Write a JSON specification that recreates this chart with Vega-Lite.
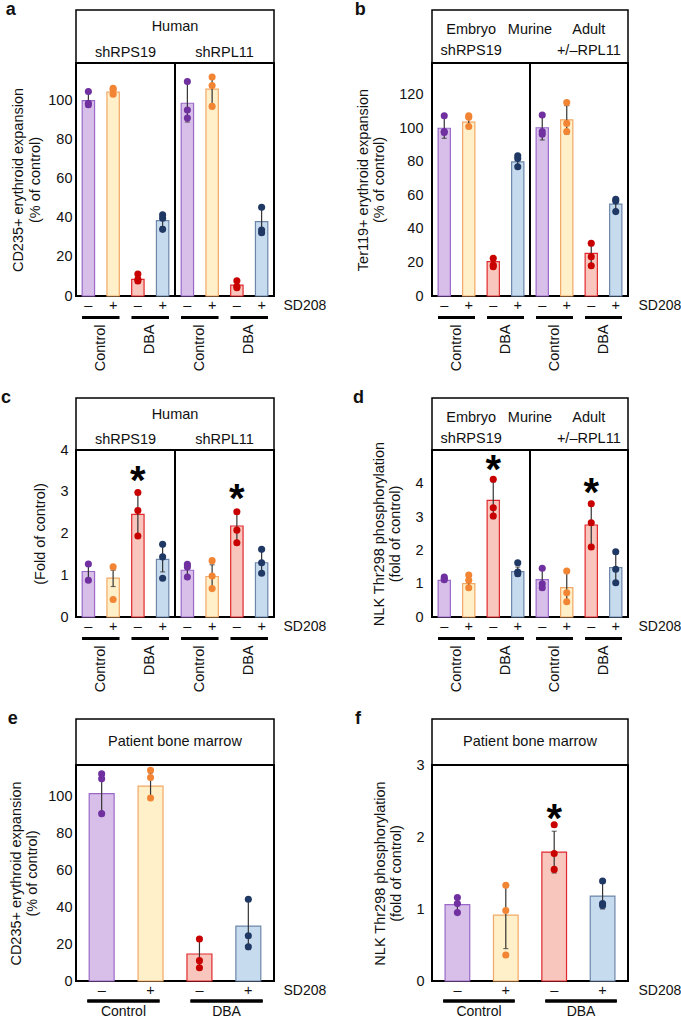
{
"$schema": "https://vega.github.io/schema/vega-lite/v6.json",
"background": "white",
"padding": {"left": 0, "top": 1, "right": 0, "bottom": 0},
"config": {
 "font": "Liberation Sans",
 "view": {"stroke": null},
 "axis": {"grid": false, "domain": false, "ticks": false, "labelOverlap": false, "labelFontSize": 14.5, "titleFontSize": 14.5, "labelColor": "#111", "titleColor": "#111", "titleFontWeight": "normal"},
 "title": {"fontSize": 18, "fontWeight": "bold", "anchor": "start", "frame": "bounds", "color": "#111", "baseline": "alphabetic", "offset": -10},
 "text": {"color": "#111"}
},
"datasets": {
 "hdr": [
  {"p":"a","col":"C","line":"1","t":"Human"},{"p":"a","col":"L","line":"2","t":"shRPS19"},{"p":"a","col":"R","line":"2","t":"shRPL11"},
  {"p":"c","col":"C","line":"1","t":"Human"},{"p":"c","col":"L","line":"2","t":"shRPS19"},{"p":"c","col":"R","line":"2","t":"shRPL11"},
  {"p":"b","col":"L","line":"1","t":"Embryo"},{"p":"b","col":"C","line":"1","t":"Murine","up":true},{"p":"b","col":"R","line":"1","t":"Adult"},{"p":"b","col":"L","line":"2","t":"shRPS19"},{"p":"b","col":"R","line":"2","t":"+/–RPL11"},
  {"p":"d","col":"L","line":"1","t":"Embryo"},{"p":"d","col":"C","line":"1","t":"Murine","up":true},{"p":"d","col":"R","line":"1","t":"Adult"},{"p":"d","col":"L","line":"2","t":"shRPS19"},{"p":"d","col":"R","line":"2","t":"+/–RPL11"},
  {"p":"e","t":"Patient bone marrow"},{"p":"f","t":"Patient bone marrow"}
 ],
 "bars": [
  {"p":"a","cat":"shRPS19 Control –","grp":"shRPS19 Control","cond":"Control –","m":100,"lo":96.5,"hi":104},
  {"p":"a","cat":"shRPS19 Control +","grp":"shRPS19 Control","cond":"Control +","m":104.3,"lo":102.8,"hi":106},
  {"p":"a","cat":"shRPS19 DBA –","grp":"shRPS19 DBA","cond":"DBA –","m":8.5,"lo":6.5,"hi":11},
  {"p":"a","cat":"shRPS19 DBA +","grp":"shRPS19 DBA","cond":"DBA +","m":38.6,"lo":35.5,"hi":41.7},
  {"p":"a","cat":"shRPL11 Control –","grp":"shRPL11 Control","cond":"Control –","m":98.6,"lo":89,"hi":109.7},
  {"p":"a","cat":"shRPL11 Control +","grp":"shRPL11 Control","cond":"Control +","m":105.8,"lo":98,"hi":112.5},
  {"p":"a","cat":"shRPL11 DBA –","grp":"shRPL11 DBA","cond":"DBA –","m":5.6,"lo":3.5,"hi":7.8},
  {"p":"a","cat":"shRPL11 DBA +","grp":"shRPL11 DBA","cond":"DBA +","m":38,"lo":31.5,"hi":45},
  {"p":"b","cat":"Embryo Control –","grp":"Embryo Control","cond":"Control –","m":100,"lo":94,"hi":107},
  {"p":"b","cat":"Embryo Control +","grp":"Embryo Control","cond":"Control +","m":103.7,"lo":100,"hi":107.5},
  {"p":"b","cat":"Embryo DBA –","grp":"Embryo DBA","cond":"DBA –","m":20.5,"lo":17.5,"hi":22.5},
  {"p":"b","cat":"Embryo DBA +","grp":"Embryo DBA","cond":"DBA +","m":80,"lo":76.5,"hi":83.5},
  {"p":"b","cat":"Adult Control –","grp":"Adult Control","cond":"Control –","m":100.3,"lo":93,"hi":107.9},
  {"p":"b","cat":"Adult Control +","grp":"Adult Control","cond":"Control +","m":105,"lo":96.5,"hi":113.5},
  {"p":"b","cat":"Adult DBA –","grp":"Adult DBA","cond":"DBA –","m":25.4,"lo":19,"hi":30},
  {"p":"b","cat":"Adult DBA +","grp":"Adult DBA","cond":"DBA +","m":54.8,"lo":51,"hi":58},
  {"p":"c","cat":"shRPS19 Control –","grp":"shRPS19 Control","cond":"Control –","m":1.09,"lo":0.93,"hi":1.25},
  {"p":"c","cat":"shRPS19 Control +","grp":"shRPS19 Control","cond":"Control +","m":0.93,"lo":0.73,"hi":1.12},
  {"p":"c","cat":"shRPS19 DBA –","grp":"shRPS19 DBA","cond":"DBA –","m":2.46,"lo":1.95,"hi":2.98,"star":"*"},
  {"p":"c","cat":"shRPS19 DBA +","grp":"shRPS19 DBA","cond":"DBA +","m":1.38,"lo":1.08,"hi":1.7},
  {"p":"c","cat":"shRPL11 Control –","grp":"shRPL11 Control","cond":"Control –","m":1.12,"lo":1.0,"hi":1.24},
  {"p":"c","cat":"shRPL11 Control +","grp":"shRPL11 Control","cond":"Control +","m":0.97,"lo":0.7,"hi":1.25},
  {"p":"c","cat":"shRPL11 DBA –","grp":"shRPL11 DBA","cond":"DBA –","m":2.18,"lo":1.8,"hi":2.55,"star":"*"},
  {"p":"c","cat":"shRPL11 DBA +","grp":"shRPL11 DBA","cond":"DBA +","m":1.3,"lo":1.02,"hi":1.6},
  {"p":"d","cat":"Embryo Control –","grp":"Embryo Control","cond":"Control –","m":1.1,"lo":1.06,"hi":1.16},
  {"p":"d","cat":"Embryo Control +","grp":"Embryo Control","cond":"Control +","m":1.0,"lo":0.87,"hi":1.13},
  {"p":"d","cat":"Embryo DBA –","grp":"Embryo DBA","cond":"DBA –","m":3.5,"lo":2.95,"hi":4.05,"star":"*"},
  {"p":"d","cat":"Embryo DBA +","grp":"Embryo DBA","cond":"DBA +","m":1.36,"lo":1.22,"hi":1.5},
  {"p":"d","cat":"Adult Control –","grp":"Adult Control","cond":"Control –","m":1.12,"lo":0.82,"hi":1.42},
  {"p":"d","cat":"Adult Control +","grp":"Adult Control","cond":"Control +","m":0.88,"lo":0.46,"hi":1.36},
  {"p":"d","cat":"Adult DBA –","grp":"Adult DBA","cond":"DBA –","m":2.76,"lo":2.1,"hi":3.35,"star":"*"},
  {"p":"d","cat":"Adult DBA +","grp":"Adult DBA","cond":"DBA +","m":1.48,"lo":1.04,"hi":1.92},
  {"p":"e","cat":"Control –","grp":"Control","cond":"Control –","m":101.3,"lo":91,"hi":112},
  {"p":"e","cat":"Control +","grp":"Control","cond":"Control +","m":105.4,"lo":99,"hi":112.5},
  {"p":"e","cat":"DBA –","grp":"DBA","cond":"DBA –","m":14.6,"lo":7,"hi":22.7},
  {"p":"e","cat":"DBA +","grp":"DBA","cond":"DBA +","m":29.7,"lo":17,"hi":44},
  {"p":"f","cat":"Control –","grp":"Control","cond":"Control –","m":1.06,"lo":0.96,"hi":1.15},
  {"p":"f","cat":"Control +","grp":"Control","cond":"Control +","m":0.914,"lo":0.45,"hi":1.33},
  {"p":"f","cat":"DBA –","grp":"DBA","cond":"DBA –","m":1.79,"lo":1.5,"hi":2.08,"star":"*"},
  {"p":"f","cat":"DBA +","grp":"DBA","cond":"DBA +","m":1.18,"lo":1.0,"hi":1.38}
 ],
 "pts": [
  {"p":"a","cat":"shRPS19 Control –","cond":"Control –","v":104.6},{"p":"a","cat":"shRPS19 Control –","cond":"Control –","v":98.6},{"p":"a","cat":"shRPS19 Control –","cond":"Control –","v":97.8},
  {"p":"a","cat":"shRPS19 Control +","cond":"Control +","v":106.3},{"p":"a","cat":"shRPS19 Control +","cond":"Control +","v":105.5},{"p":"a","cat":"shRPS19 Control +","cond":"Control +","v":103.2},
  {"p":"a","cat":"shRPS19 DBA –","cond":"DBA –","v":11.3},{"p":"a","cat":"shRPS19 DBA –","cond":"DBA –","v":8.5},{"p":"a","cat":"shRPS19 DBA –","cond":"DBA –","v":7.7},
  {"p":"a","cat":"shRPS19 DBA +","cond":"DBA +","v":41.5},{"p":"a","cat":"shRPS19 DBA +","cond":"DBA +","v":39.8},{"p":"a","cat":"shRPS19 DBA +","cond":"DBA +","v":34.1},
  {"p":"a","cat":"shRPL11 Control –","cond":"Control –","v":109.7},{"p":"a","cat":"shRPL11 Control –","cond":"Control –","v":95.2},{"p":"a","cat":"shRPL11 Control –","cond":"Control –","v":91},
  {"p":"a","cat":"shRPL11 Control +","cond":"Control +","v":112},{"p":"a","cat":"shRPL11 Control +","cond":"Control +","v":107.7},{"p":"a","cat":"shRPL11 Control +","cond":"Control +","v":97},
  {"p":"a","cat":"shRPL11 DBA –","cond":"DBA –","v":7.8},{"p":"a","cat":"shRPL11 DBA –","cond":"DBA –","v":4.8},{"p":"a","cat":"shRPL11 DBA –","cond":"DBA –","v":4.2},
  {"p":"a","cat":"shRPL11 DBA +","cond":"DBA +","v":45.4},{"p":"a","cat":"shRPL11 DBA +","cond":"DBA +","v":33.8},{"p":"a","cat":"shRPL11 DBA +","cond":"DBA +","v":32.4},
  {"p":"b","cat":"Embryo Control –","cond":"Control –","v":107.5},{"p":"b","cat":"Embryo Control –","cond":"Control –","v":98},{"p":"b","cat":"Embryo Control –","cond":"Control –","v":97.4},
  {"p":"b","cat":"Embryo Control +","cond":"Control +","v":107.5},{"p":"b","cat":"Embryo Control +","cond":"Control +","v":106.5},{"p":"b","cat":"Embryo Control +","cond":"Control +","v":101},
  {"p":"b","cat":"Embryo DBA –","cond":"DBA –","v":22.5},{"p":"b","cat":"Embryo DBA –","cond":"DBA –","v":18.5},{"p":"b","cat":"Embryo DBA –","cond":"DBA –","v":17.5},
  {"p":"b","cat":"Embryo DBA +","cond":"DBA +","v":83.6},{"p":"b","cat":"Embryo DBA +","cond":"DBA +","v":82},{"p":"b","cat":"Embryo DBA +","cond":"DBA +","v":77},
  {"p":"b","cat":"Adult Control –","cond":"Control –","v":107.9},{"p":"b","cat":"Adult Control –","cond":"Control –","v":98},{"p":"b","cat":"Adult Control –","cond":"Control –","v":96.4},
  {"p":"b","cat":"Adult Control +","cond":"Control +","v":115.4},{"p":"b","cat":"Adult Control +","cond":"Control +","v":102.9},{"p":"b","cat":"Adult Control +","cond":"Control +","v":98},
  {"p":"b","cat":"Adult DBA –","cond":"DBA –","v":31.4},{"p":"b","cat":"Adult DBA –","cond":"DBA –","v":23.4},{"p":"b","cat":"Adult DBA –","cond":"DBA –","v":18},
  {"p":"b","cat":"Adult DBA +","cond":"DBA +","v":57.6},{"p":"b","cat":"Adult DBA +","cond":"DBA +","v":56.6},{"p":"b","cat":"Adult DBA +","cond":"DBA +","v":50.3},
  {"p":"c","cat":"shRPS19 Control –","cond":"Control –","v":1.27},{"p":"c","cat":"shRPS19 Control –","cond":"Control –","v":0.88},
  {"p":"c","cat":"shRPS19 Control +","cond":"Control +","v":1.2},{"p":"c","cat":"shRPS19 Control +","cond":"Control +","v":0.42},
  {"p":"c","cat":"shRPS19 DBA –","cond":"DBA –","v":2.98},{"p":"c","cat":"shRPS19 DBA –","cond":"DBA –","v":2.55},{"p":"c","cat":"shRPS19 DBA –","cond":"DBA –","v":1.94},
  {"p":"c","cat":"shRPS19 DBA +","cond":"DBA +","v":1.74},{"p":"c","cat":"shRPS19 DBA +","cond":"DBA +","v":1.44},{"p":"c","cat":"shRPS19 DBA +","cond":"DBA +","v":0.93},
  {"p":"c","cat":"shRPL11 Control –","cond":"Control –","v":1.26},{"p":"c","cat":"shRPL11 Control –","cond":"Control –","v":1.2},{"p":"c","cat":"shRPL11 Control –","cond":"Control –","v":0.96},
  {"p":"c","cat":"shRPL11 Control +","cond":"Control +","v":1.35},{"p":"c","cat":"shRPL11 Control +","cond":"Control +","v":0.98},{"p":"c","cat":"shRPL11 Control +","cond":"Control +","v":0.68},
  {"p":"c","cat":"shRPL11 DBA –","cond":"DBA –","v":2.52},{"p":"c","cat":"shRPL11 DBA –","cond":"DBA –","v":2.08},{"p":"c","cat":"shRPL11 DBA –","cond":"DBA –","v":1.78},
  {"p":"c","cat":"shRPL11 DBA +","cond":"DBA +","v":1.62},{"p":"c","cat":"shRPL11 DBA +","cond":"DBA +","v":1.3},{"p":"c","cat":"shRPL11 DBA +","cond":"DBA +","v":1.05},
  {"p":"d","cat":"Embryo Control –","cond":"Control –","v":1.2},{"p":"d","cat":"Embryo Control –","cond":"Control –","v":1.15},{"p":"d","cat":"Embryo Control –","cond":"Control –","v":1.12},
  {"p":"d","cat":"Embryo Control +","cond":"Control +","v":1.26},{"p":"d","cat":"Embryo Control +","cond":"Control +","v":1.1},{"p":"d","cat":"Embryo Control +","cond":"Control +","v":0.88},
  {"p":"d","cat":"Embryo DBA –","cond":"DBA –","v":4.13},{"p":"d","cat":"Embryo DBA –","cond":"DBA –","v":3.28},{"p":"d","cat":"Embryo DBA –","cond":"DBA –","v":3.03},
  {"p":"d","cat":"Embryo DBA +","cond":"DBA +","v":1.63},{"p":"d","cat":"Embryo DBA +","cond":"DBA +","v":1.35},{"p":"d","cat":"Embryo DBA +","cond":"DBA +","v":1.3},
  {"p":"d","cat":"Adult Control –","cond":"Control –","v":1.46},{"p":"d","cat":"Adult Control –","cond":"Control –","v":1.0},{"p":"d","cat":"Adult Control –","cond":"Control –","v":0.88},
  {"p":"d","cat":"Adult Control +","cond":"Control +","v":1.38},{"p":"d","cat":"Adult Control +","cond":"Control +","v":0.73},{"p":"d","cat":"Adult Control +","cond":"Control +","v":0.46},
  {"p":"d","cat":"Adult DBA –","cond":"DBA –","v":3.4},{"p":"d","cat":"Adult DBA –","cond":"DBA –","v":2.83},{"p":"d","cat":"Adult DBA –","cond":"DBA –","v":2.1},
  {"p":"d","cat":"Adult DBA +","cond":"DBA +","v":1.96},{"p":"d","cat":"Adult DBA +","cond":"DBA +","v":1.43},{"p":"d","cat":"Adult DBA +","cond":"DBA +","v":1.03},
  {"p":"e","cat":"Control –","cond":"Control –","v":112},{"p":"e","cat":"Control –","cond":"Control –","v":109.3},{"p":"e","cat":"Control –","cond":"Control –","v":90.5},
  {"p":"e","cat":"Control +","cond":"Control +","v":114},{"p":"e","cat":"Control +","cond":"Control +","v":110},{"p":"e","cat":"Control +","cond":"Control +","v":99},
  {"p":"e","cat":"DBA –","cond":"DBA –","v":22.7},{"p":"e","cat":"DBA –","cond":"DBA –","v":11},{"p":"e","cat":"DBA –","cond":"DBA –","v":7.2},
  {"p":"e","cat":"DBA +","cond":"DBA +","v":44.2},{"p":"e","cat":"DBA +","cond":"DBA +","v":24.5},{"p":"e","cat":"DBA +","cond":"DBA +","v":18.5},
  {"p":"f","cat":"Control –","cond":"Control –","v":1.16},{"p":"f","cat":"Control –","cond":"Control –","v":1.075},{"p":"f","cat":"Control –","cond":"Control –","v":0.95},
  {"p":"f","cat":"Control +","cond":"Control +","v":1.33},{"p":"f","cat":"Control +","cond":"Control +","v":0.98},{"p":"f","cat":"Control +","cond":"Control +","v":0.36},
  {"p":"f","cat":"DBA –","cond":"DBA –","v":2.17},{"p":"f","cat":"DBA –","cond":"DBA –","v":1.77},{"p":"f","cat":"DBA –","cond":"DBA –","v":1.55},
  {"p":"f","cat":"DBA +","cond":"DBA +","v":1.39},{"p":"f","cat":"DBA +","cond":"DBA +","v":1.075},{"p":"f","cat":"DBA +","cond":"DBA +","v":1.05}
 ]
},
"align": "none",
"spacing": 18,
"vconcat": [
 {"spacing": 27, "hconcat": [
  {"title": {"text": "a", "dx": -4}, "bounds": "flush", "spacing": 0, "vconcat": [
   {"width": 198, "height": 53, "view": {"stroke": "black", "strokeWidth": 1.5},
    "data": {"name": "hdr"}, "transform": [{"filter": "datum.p=='a'"}],
    "mark": {"type": "text", "fontSize": 14.5},
    "encoding": {"x": {"field": "col", "type": "nominal", "scale": {"type": "point", "domain": ["L","C","R"], "padding": 1}, "axis": null},
                 "y": {"field": "line", "type": "ordinal", "scale": {"type": "point", "domain": ["1","2"], "range": [17,43], "padding": 0}, "axis": null},
                 "text": {"field": "t"}}},
   {"width": 198, "height": 233, "view": {"stroke": "black", "strokeWidth": 2},
    "layer": [
     {"data": {"name": "bars"}, "transform": [{"filter": "datum.p=='a'"}],
      "mark": {"type": "bar", "strokeWidth": 1.2},
      "encoding": {
       "x": {"field": "cat", "type": "nominal", "scale": {"domain": ["shRPS19 Control –","shRPS19 Control +","shRPS19 DBA –","shRPS19 DBA +","shRPL11 Control –","shRPL11 Control +","shRPL11 DBA –","shRPL11 DBA +"], "paddingInner": 0.5, "paddingOuter": 0.25},
             "axis": {"labelExpr": "slice(datum.label,-1)", "labelAngle": 0, "labelPadding": 2, "title": "SD208", "titleFontSize": 14, "titleX": 207, "titleY": 9, "titleAlign": "left", "titleBaseline": "middle", "titleAngle": 0}},
       "y": {"field": "m", "type": "quantitative", "scale": {"domain": [0, 119.2], "nice": false}, "axis": {"values": [0,20,40,60,80,100], "format": "d", "labelOverlap": false, "title": ["CD235+ erythroid expansion", "(% of control)"], "labelPadding": 4, "titlePadding": 5, "titleLineHeight": 17}},
       "fill": {"field": "cond", "type": "nominal", "scale": {"domain": ["Control –","Control +","DBA –","DBA +"], "range": ["#d8bfe9","#fff0c9","#f9c6bd","#c7dbef"]}, "legend": null},
       "stroke": {"field": "cond", "type": "nominal", "scale": {"domain": ["Control –","Control +","DBA –","DBA +"], "range": ["#9b68c9","#f2a866","#e0282e","#6d87aa"]}, "legend": null}}},
     {"data": {"name": "bars"}, "transform": [{"filter": "datum.p=='a'"}],
      "mark": {"type": "rule", "color": "#333", "strokeWidth": 1.2},
      "encoding": {"x": {"field": "cat", "type": "nominal"}, "y": {"field": "lo", "type": "quantitative"}, "y2": {"field": "hi"}}},
     {"data": {"name": "bars"}, "transform": [{"filter": "datum.p=='a'"}],
      "mark": {"type": "tick", "color": "#333", "size": 5, "thickness": 1.2},
      "encoding": {"x": {"field": "cat", "type": "nominal"}, "y": {"field": "lo", "type": "quantitative"}}},
     {"data": {"name": "bars"}, "transform": [{"filter": "datum.p=='a'"}],
      "mark": {"type": "tick", "color": "#333", "size": 5, "thickness": 1.2},
      "encoding": {"x": {"field": "cat", "type": "nominal"}, "y": {"field": "hi", "type": "quantitative"}}},
     {"data": {"name": "pts"}, "transform": [{"filter": "datum.p=='a'"}],
      "mark": {"type": "circle", "size": 50, "opacity": 1},
      "encoding": {"x": {"field": "cat", "type": "nominal"}, "y": {"field": "v", "type": "quantitative"},
                   "color": {"field": "cond", "type": "nominal", "scale": {"domain": ["Control –","Control +","DBA –","DBA +"], "range": ["#7030a0","#f28534","#c80000","#1f3864"]}, "legend": null}}},
     {"data": {"name": "bars"}, "transform": [{"filter": "datum.p=='a' && datum.cat=='shRPS19 DBA +'"}],
      "mark": {"type": "rule", "color": "black", "strokeWidth": 2},
      "encoding": {"x": {"field": "cat", "type": "nominal", "bandPosition": 1.5}}}
    ]},
   {"width": 198, "height": 23,
    "data": {"name": "bars"}, "transform": [{"filter": "datum.p=='a'"}],
    "mark": {"type": "bar", "color": "black"},
    "encoding": {"x": {"field": "grp", "type": "nominal", "scale": {"domain": ["shRPS19 Control","shRPS19 DBA","shRPL11 Control","shRPL11 DBA"], "paddingInner": 0.25, "paddingOuter": 0.125},
                       "axis": {"title": null, "labelAngle": -90, "labelPadding": 5, "labelExpr": "split(datum.label,' ')[1]"}},
                 "y": {"datum": 0, "type": "quantitative", "scale": {"domain": [0, 23]}, "axis": null},
                 "y2": {"datum": 3}}}
  ]},
  {"title": {"text": "b"}, "bounds": "flush", "spacing": 0, "vconcat": [
   {"width": 196, "height": 53, "view": {"stroke": "black", "strokeWidth": 1.5},
    "data": {"name": "hdr"}, "transform": [{"filter": "datum.p=='b'"}],
    "mark": {"type": "text", "fontSize": 14.5},
    "encoding": {"x": {"field": "col", "type": "nominal", "scale": {"type": "point", "domain": ["L","C","R"], "padding": 0.667}, "axis": null},
                 "y": {"field": "line", "type": "ordinal", "scale": {"type": "point", "domain": ["1","2"], "range": [20,41], "padding": 0}, "axis": null},
                 "yOffset": {"condition": {"test": "datum.up", "value": -4}, "value": 0},
                 "text": {"field": "t"}}},
   {"width": 196, "height": 233, "view": {"stroke": "black", "strokeWidth": 2},
    "layer": [
     {"data": {"name": "bars"}, "transform": [{"filter": "datum.p=='b'"}],
      "mark": {"type": "bar", "strokeWidth": 1.2},
      "encoding": {
       "x": {"field": "cat", "type": "nominal", "scale": {"domain": ["Embryo Control –","Embryo Control +","Embryo DBA –","Embryo DBA +","Adult Control –","Adult Control +","Adult DBA –","Adult DBA +"], "paddingInner": 0.5, "paddingOuter": 0.25},
             "axis": {"labelExpr": "slice(datum.label,-1)", "labelAngle": 0, "labelPadding": 2, "title": "SD208", "titleFontSize": 14, "titleX": 206, "titleY": 9, "titleAlign": "left", "titleBaseline": "middle", "titleAngle": 0}},
       "y": {"field": "m", "type": "quantitative", "scale": {"domain": [0, 138.9], "nice": false}, "axis": {"values": [0,20,40,60,80,100,120], "tickCount": 7, "format": "d", "labelOverlap": false, "title": ["Ter119+ erythroid expansion", "(% of control)"], "labelPadding": 9, "titlePadding": 12, "titleLineHeight": 16}},
       "fill": {"field": "cond", "type": "nominal", "scale": {"domain": ["Control –","Control +","DBA –","DBA +"], "range": ["#d8bfe9","#fff0c9","#f9abab","#c7dbef"]}, "legend": null},
       "stroke": {"field": "cond", "type": "nominal", "scale": {"domain": ["Control –","Control +","DBA –","DBA +"], "range": ["#9b68c9","#f2a866","#e0282e","#6d87aa"]}, "legend": null}}},
     {"data": {"name": "bars"}, "transform": [{"filter": "datum.p=='b'"}],
      "mark": {"type": "rule", "color": "#333", "strokeWidth": 1.2},
      "encoding": {"x": {"field": "cat", "type": "nominal"}, "y": {"field": "lo", "type": "quantitative"}, "y2": {"field": "hi"}}},
     {"data": {"name": "bars"}, "transform": [{"filter": "datum.p=='b'"}],
      "mark": {"type": "tick", "color": "#333", "size": 5, "thickness": 1.2},
      "encoding": {"x": {"field": "cat", "type": "nominal"}, "y": {"field": "lo", "type": "quantitative"}}},
     {"data": {"name": "bars"}, "transform": [{"filter": "datum.p=='b'"}],
      "mark": {"type": "tick", "color": "#333", "size": 5, "thickness": 1.2},
      "encoding": {"x": {"field": "cat", "type": "nominal"}, "y": {"field": "hi", "type": "quantitative"}}},
     {"data": {"name": "pts"}, "transform": [{"filter": "datum.p=='b'"}],
      "mark": {"type": "circle", "size": 50, "opacity": 1},
      "encoding": {"x": {"field": "cat", "type": "nominal"}, "y": {"field": "v", "type": "quantitative"},
                   "color": {"field": "cond", "type": "nominal", "scale": {"domain": ["Control –","Control +","DBA –","DBA +"], "range": ["#7030a0","#f28534","#c80000","#1f3864"]}, "legend": null}}},
     {"data": {"name": "bars"}, "transform": [{"filter": "datum.p=='b' && datum.cat=='Embryo DBA +'"}],
      "mark": {"type": "rule", "color": "black", "strokeWidth": 2},
      "encoding": {"x": {"field": "cat", "type": "nominal", "bandPosition": 1.5}}}
    ]},
   {"width": 196, "height": 23,
    "data": {"name": "bars"}, "transform": [{"filter": "datum.p=='b'"}],
    "mark": {"type": "bar", "color": "black"},
    "encoding": {"x": {"field": "grp", "type": "nominal", "scale": {"domain": ["Embryo Control","Embryo DBA","Adult Control","Adult DBA"], "paddingInner": 0.25, "paddingOuter": 0.125},
                       "axis": {"title": null, "labelAngle": -90, "labelPadding": 5, "labelExpr": "split(datum.label,' ')[1]"}},
                 "y": {"datum": 0, "type": "quantitative", "scale": {"domain": [0, 23]}, "axis": null},
                 "y2": {"datum": 3}}}
  ]}
 ]},
 {"spacing": 25, "hconcat": [
  {"title": {"text": "c", "dx": -31}, "bounds": "flush", "spacing": 0, "vconcat": [
   {"width": 198, "height": 52, "view": {"stroke": "black", "strokeWidth": 1.5},
    "data": {"name": "hdr"}, "transform": [{"filter": "datum.p=='c'"}],
    "mark": {"type": "text", "fontSize": 14.5},
    "encoding": {"x": {"field": "col", "type": "nominal", "scale": {"type": "point", "domain": ["L","C","R"], "padding": 1}, "axis": null},
                 "y": {"field": "line", "type": "ordinal", "scale": {"type": "point", "domain": ["1","2"], "range": [17,42], "padding": 0}, "axis": null},
                 "text": {"field": "t"}}},
   {"width": 198, "height": 167, "view": {"stroke": "black", "strokeWidth": 2},
    "layer": [
     {"data": {"name": "bars"}, "transform": [{"filter": "datum.p=='c'"}],
      "mark": {"type": "bar", "strokeWidth": 1.2},
      "encoding": {
       "x": {"field": "cat", "type": "nominal", "scale": {"domain": ["shRPS19 Control –","shRPS19 Control +","shRPS19 DBA –","shRPS19 DBA +","shRPL11 Control –","shRPL11 Control +","shRPL11 DBA –","shRPL11 DBA +"], "paddingInner": 0.5, "paddingOuter": 0.25},
             "axis": {"labelExpr": "slice(datum.label,-1)", "labelAngle": 0, "labelPadding": 2, "title": "SD208", "titleFontSize": 14, "titleX": 207, "titleY": 9, "titleAlign": "left", "titleBaseline": "middle", "titleAngle": 0}},
       "y": {"field": "m", "type": "quantitative", "scale": {"domain": [0, 4], "nice": false}, "axis": {"values": [0,1,2,3,4], "format": "d", "labelOverlap": false, "title": "(Fold of control)", "labelPadding": 8, "titlePadding": 12}},
       "fill": {"field": "cond", "type": "nominal", "scale": {"domain": ["Control –","Control +","DBA –","DBA +"], "range": ["#d8bfe9","#fff0c9","#f9abab","#c7dbef"]}, "legend": null},
       "stroke": {"field": "cond", "type": "nominal", "scale": {"domain": ["Control –","Control +","DBA –","DBA +"], "range": ["#9b68c9","#f2a866","#e0282e","#6d87aa"]}, "legend": null}}},
     {"data": {"name": "bars"}, "transform": [{"filter": "datum.p=='c'"}],
      "mark": {"type": "rule", "color": "#333", "strokeWidth": 1.2},
      "encoding": {"x": {"field": "cat", "type": "nominal"}, "y": {"field": "lo", "type": "quantitative"}, "y2": {"field": "hi"}}},
     {"data": {"name": "bars"}, "transform": [{"filter": "datum.p=='c'"}],
      "mark": {"type": "tick", "color": "#333", "size": 5, "thickness": 1.2},
      "encoding": {"x": {"field": "cat", "type": "nominal"}, "y": {"field": "lo", "type": "quantitative"}}},
     {"data": {"name": "bars"}, "transform": [{"filter": "datum.p=='c'"}],
      "mark": {"type": "tick", "color": "#333", "size": 5, "thickness": 1.2},
      "encoding": {"x": {"field": "cat", "type": "nominal"}, "y": {"field": "hi", "type": "quantitative"}}},
     {"data": {"name": "pts"}, "transform": [{"filter": "datum.p=='c'"}],
      "mark": {"type": "circle", "size": 50, "opacity": 1},
      "encoding": {"x": {"field": "cat", "type": "nominal"}, "y": {"field": "v", "type": "quantitative"},
                   "color": {"field": "cond", "type": "nominal", "scale": {"domain": ["Control –","Control +","DBA –","DBA +"], "range": ["#7030a0","#f28534","#c80000","#1f3864"]}, "legend": null}}},
     {"data": {"name": "bars"}, "transform": [{"filter": "datum.p=='c' && datum.star"}],
      "mark": {"type": "text", "fontSize": 40, "fontWeight": "bold", "baseline": "alphabetic", "dy": 1, "color": "black"},
      "encoding": {"x": {"field": "cat", "type": "nominal"}, "y": {"field": "hi", "type": "quantitative"}, "text": {"field": "star"}}},
     {"data": {"name": "bars"}, "transform": [{"filter": "datum.p=='c' && datum.cat=='shRPS19 DBA +'"}],
      "mark": {"type": "rule", "color": "black", "strokeWidth": 2},
      "encoding": {"x": {"field": "cat", "type": "nominal", "bandPosition": 1.5}}}
    ]},
   {"width": 198, "height": 23,
    "data": {"name": "bars"}, "transform": [{"filter": "datum.p=='c'"}],
    "mark": {"type": "bar", "color": "black"},
    "encoding": {"x": {"field": "grp", "type": "nominal", "scale": {"domain": ["shRPS19 Control","shRPS19 DBA","shRPL11 Control","shRPL11 DBA"], "paddingInner": 0.25, "paddingOuter": 0.125},
                       "axis": {"title": null, "labelAngle": -90, "labelPadding": 5, "labelExpr": "split(datum.label,' ')[1]"}},
                 "y": {"datum": 0, "type": "quantitative", "scale": {"domain": [0, 23]}, "axis": null},
                 "y2": {"datum": 3}}}
  ]},
  {"title": {"text": "d", "dx": -18}, "bounds": "flush", "spacing": 0, "vconcat": [
   {"width": 196, "height": 52, "view": {"stroke": "black", "strokeWidth": 1.5},
    "data": {"name": "hdr"}, "transform": [{"filter": "datum.p=='d'"}],
    "mark": {"type": "text", "fontSize": 14.5},
    "encoding": {"x": {"field": "col", "type": "nominal", "scale": {"type": "point", "domain": ["L","C","R"], "padding": 0.667}, "axis": null},
                 "y": {"field": "line", "type": "ordinal", "scale": {"type": "point", "domain": ["1","2"], "range": [20,41], "padding": 0}, "axis": null},
                 "yOffset": {"condition": {"test": "datum.up", "value": -4}, "value": 0},
                 "text": {"field": "t"}}},
   {"width": 196, "height": 167, "view": {"stroke": "black", "strokeWidth": 2},
    "layer": [
     {"data": {"name": "bars"}, "transform": [{"filter": "datum.p=='d'"}],
      "mark": {"type": "bar", "strokeWidth": 1.2},
      "encoding": {
       "x": {"field": "cat", "type": "nominal", "scale": {"domain": ["Embryo Control –","Embryo Control +","Embryo DBA –","Embryo DBA +","Adult Control –","Adult Control +","Adult DBA –","Adult DBA +"], "paddingInner": 0.5, "paddingOuter": 0.25},
             "axis": {"labelExpr": "slice(datum.label,-1)", "labelAngle": 0, "labelPadding": 2, "title": "SD208", "titleFontSize": 14, "titleX": 206, "titleY": 9, "titleAlign": "left", "titleBaseline": "middle", "titleAngle": 0}},
       "y": {"field": "m", "type": "quantitative", "scale": {"domain": [0, 5.01], "nice": false}, "axis": {"values": [0,1,2,3,4], "format": "d", "labelOverlap": false, "title": ["NLK Thr298 phosphorylation", "(fold of control)"], "labelPadding": 9, "titlePadding": 12, "titleLineHeight": 16}},
       "fill": {"field": "cond", "type": "nominal", "scale": {"domain": ["Control –","Control +","DBA –","DBA +"], "range": ["#d8bfe9","#fff0c9","#f9abab","#c7dbef"]}, "legend": null},
       "stroke": {"field": "cond", "type": "nominal", "scale": {"domain": ["Control –","Control +","DBA –","DBA +"], "range": ["#9b68c9","#f2a866","#e0282e","#6d87aa"]}, "legend": null}}},
     {"data": {"name": "bars"}, "transform": [{"filter": "datum.p=='d'"}],
      "mark": {"type": "rule", "color": "#333", "strokeWidth": 1.2},
      "encoding": {"x": {"field": "cat", "type": "nominal"}, "y": {"field": "lo", "type": "quantitative"}, "y2": {"field": "hi"}}},
     {"data": {"name": "bars"}, "transform": [{"filter": "datum.p=='d'"}],
      "mark": {"type": "tick", "color": "#333", "size": 5, "thickness": 1.2},
      "encoding": {"x": {"field": "cat", "type": "nominal"}, "y": {"field": "lo", "type": "quantitative"}}},
     {"data": {"name": "bars"}, "transform": [{"filter": "datum.p=='d'"}],
      "mark": {"type": "tick", "color": "#333", "size": 5, "thickness": 1.2},
      "encoding": {"x": {"field": "cat", "type": "nominal"}, "y": {"field": "hi", "type": "quantitative"}}},
     {"data": {"name": "pts"}, "transform": [{"filter": "datum.p=='d'"}],
      "mark": {"type": "circle", "size": 50, "opacity": 1},
      "encoding": {"x": {"field": "cat", "type": "nominal"}, "y": {"field": "v", "type": "quantitative"},
                   "color": {"field": "cond", "type": "nominal", "scale": {"domain": ["Control –","Control +","DBA –","DBA +"], "range": ["#7030a0","#f28534","#c80000","#1f3864"]}, "legend": null}}},
     {"data": {"name": "bars"}, "transform": [{"filter": "datum.p=='d' && datum.star"}],
      "mark": {"type": "text", "fontSize": 40, "fontWeight": "bold", "baseline": "alphabetic", "dy": 1, "color": "black"},
      "encoding": {"x": {"field": "cat", "type": "nominal"}, "y": {"field": "hi", "type": "quantitative"}, "text": {"field": "star"}}},
     {"data": {"name": "bars"}, "transform": [{"filter": "datum.p=='d' && datum.cat=='Embryo DBA +'"}],
      "mark": {"type": "rule", "color": "black", "strokeWidth": 2},
      "encoding": {"x": {"field": "cat", "type": "nominal", "bandPosition": 1.5}}}
    ]},
   {"width": 196, "height": 23,
    "data": {"name": "bars"}, "transform": [{"filter": "datum.p=='d'"}],
    "mark": {"type": "bar", "color": "black"},
    "encoding": {"x": {"field": "grp", "type": "nominal", "scale": {"domain": ["Embryo Control","Embryo DBA","Adult Control","Adult DBA"], "paddingInner": 0.25, "paddingOuter": 0.125},
                       "axis": {"title": null, "labelAngle": -90, "labelPadding": 5, "labelExpr": "split(datum.label,' ')[1]"}},
                 "y": {"datum": 0, "type": "quantitative", "scale": {"domain": [0, 23]}, "axis": null},
                 "y2": {"datum": 3}}}
  ]}
 ]},
 {"spacing": 27, "hconcat": [
  {"title": {"text": "e"}, "bounds": "flush", "spacing": 0, "vconcat": [
   {"width": 198, "height": 46, "view": {"stroke": "black", "strokeWidth": 1.5},
    "data": {"name": "hdr"}, "transform": [{"filter": "datum.p=='e'"}],
    "mark": {"type": "text", "fontSize": 14.5},
    "encoding": {"text": {"field": "t"}}},
   {"width": 198, "height": 216, "view": {"stroke": "black", "strokeWidth": 2},
    "layer": [
     {"data": {"name": "bars"}, "transform": [{"filter": "datum.p=='e'"}],
      "mark": {"type": "bar", "strokeWidth": 1.2},
      "encoding": {
       "x": {"field": "cat", "type": "nominal", "scale": {"domain": ["Control –","Control +","DBA –","DBA +"], "paddingInner": 0.49, "paddingOuter": 0.27},
             "axis": {"labelExpr": "slice(datum.label,-1)", "labelAngle": 0, "labelPadding": 2, "title": "SD208", "titleFontSize": 14, "titleX": 207, "titleY": 9, "titleAlign": "left", "titleBaseline": "middle", "titleAngle": 0}},
       "y": {"field": "m", "type": "quantitative", "scale": {"domain": [0, 116.8], "nice": false}, "axis": {"values": [0,20,40,60,80,100], "format": "d", "labelOverlap": false, "title": ["CD235+ erythroid expansion", "(% of control)"], "labelPadding": 4, "titlePadding": 8, "titleLineHeight": 16}},
       "fill": {"field": "cond", "type": "nominal", "scale": {"domain": ["Control –","Control +","DBA –","DBA +"], "range": ["#d8bfe9","#fff0c9","#f9abab","#c7dbef"]}, "legend": null},
       "stroke": {"field": "cond", "type": "nominal", "scale": {"domain": ["Control –","Control +","DBA –","DBA +"], "range": ["#9b68c9","#f2a866","#e0282e","#6d87aa"]}, "legend": null}}},
     {"data": {"name": "bars"}, "transform": [{"filter": "datum.p=='e'"}],
      "mark": {"type": "rule", "color": "#333", "strokeWidth": 1.2},
      "encoding": {"x": {"field": "cat", "type": "nominal"}, "y": {"field": "lo", "type": "quantitative"}, "y2": {"field": "hi"}}},
     {"data": {"name": "bars"}, "transform": [{"filter": "datum.p=='e'"}],
      "mark": {"type": "tick", "color": "#333", "size": 5, "thickness": 1.2},
      "encoding": {"x": {"field": "cat", "type": "nominal"}, "y": {"field": "lo", "type": "quantitative"}}},
     {"data": {"name": "bars"}, "transform": [{"filter": "datum.p=='e'"}],
      "mark": {"type": "tick", "color": "#333", "size": 5, "thickness": 1.2},
      "encoding": {"x": {"field": "cat", "type": "nominal"}, "y": {"field": "hi", "type": "quantitative"}}},
     {"data": {"name": "pts"}, "transform": [{"filter": "datum.p=='e'"}],
      "mark": {"type": "circle", "size": 50, "opacity": 1},
      "encoding": {"x": {"field": "cat", "type": "nominal"}, "y": {"field": "v", "type": "quantitative"},
                   "color": {"field": "cond", "type": "nominal", "scale": {"domain": ["Control –","Control +","DBA –","DBA +"], "range": ["#7030a0","#f28534","#c80000","#1f3864"]}, "legend": null}}}
    ]},
   {"width": 198, "height": 21.5,
    "data": {"name": "bars"}, "transform": [{"filter": "datum.p=='e'"}],
    "mark": {"type": "bar", "color": "black"},
    "encoding": {"x": {"field": "grp", "type": "nominal", "scale": {"domain": ["Control","DBA"], "paddingInner": 0.3, "paddingOuter": 0.11},
                       "axis": {"title": null, "labelAngle": 0, "labelPadding": 2, "labelFontSize": 14}},
                 "y": {"datum": 0, "type": "quantitative", "scale": {"domain": [0, 21.5]}, "axis": null},
                 "y2": {"datum": 3}}}
  ]},
  {"title": {"text": "f", "dx": -17}, "bounds": "flush", "spacing": 0, "vconcat": [
   {"width": 196, "height": 46, "view": {"stroke": "black", "strokeWidth": 1.5},
    "data": {"name": "hdr"}, "transform": [{"filter": "datum.p=='f'"}],
    "mark": {"type": "text", "fontSize": 14.5},
    "encoding": {"text": {"field": "t"}}},
   {"width": 196, "height": 216, "view": {"stroke": "black", "strokeWidth": 2},
    "layer": [
     {"data": {"name": "bars"}, "transform": [{"filter": "datum.p=='f'"}],
      "mark": {"type": "bar", "strokeWidth": 1.2},
      "encoding": {
       "x": {"field": "cat", "type": "nominal", "scale": {"domain": ["Control –","Control +","DBA –","DBA +"], "paddingInner": 0.49, "paddingOuter": 0.27},
             "axis": {"labelExpr": "slice(datum.label,-1)", "labelAngle": 0, "labelPadding": 2, "title": "SD208", "titleFontSize": 14, "titleX": 206, "titleY": 9, "titleAlign": "left", "titleBaseline": "middle", "titleAngle": 0}},
       "y": {"field": "m", "type": "quantitative", "scale": {"domain": [0, 3], "nice": false}, "axis": {"values": [0,1,2,3], "format": "d", "labelOverlap": false, "title": ["NLK Thr298 phosphorylation", "(fold of control)"], "labelPadding": 8, "titlePadding": 12, "titleLineHeight": 16}},
       "fill": {"field": "cond", "type": "nominal", "scale": {"domain": ["Control –","Control +","DBA –","DBA +"], "range": ["#d8bfe9","#fff0c9","#f9abab","#c7dbef"]}, "legend": null},
       "stroke": {"field": "cond", "type": "nominal", "scale": {"domain": ["Control –","Control +","DBA –","DBA +"], "range": ["#9b68c9","#f2a866","#e0282e","#6d87aa"]}, "legend": null}}},
     {"data": {"name": "bars"}, "transform": [{"filter": "datum.p=='f'"}],
      "mark": {"type": "rule", "color": "#333", "strokeWidth": 1.2},
      "encoding": {"x": {"field": "cat", "type": "nominal"}, "y": {"field": "lo", "type": "quantitative"}, "y2": {"field": "hi"}}},
     {"data": {"name": "bars"}, "transform": [{"filter": "datum.p=='f'"}],
      "mark": {"type": "tick", "color": "#333", "size": 5, "thickness": 1.2},
      "encoding": {"x": {"field": "cat", "type": "nominal"}, "y": {"field": "lo", "type": "quantitative"}}},
     {"data": {"name": "bars"}, "transform": [{"filter": "datum.p=='f'"}],
      "mark": {"type": "tick", "color": "#333", "size": 5, "thickness": 1.2},
      "encoding": {"x": {"field": "cat", "type": "nominal"}, "y": {"field": "hi", "type": "quantitative"}}},
     {"data": {"name": "pts"}, "transform": [{"filter": "datum.p=='f'"}],
      "mark": {"type": "circle", "size": 50, "opacity": 1},
      "encoding": {"x": {"field": "cat", "type": "nominal"}, "y": {"field": "v", "type": "quantitative"},
                   "color": {"field": "cond", "type": "nominal", "scale": {"domain": ["Control –","Control +","DBA –","DBA +"], "range": ["#7030a0","#f28534","#c80000","#1f3864"]}, "legend": null}}},
     {"data": {"name": "bars"}, "transform": [{"filter": "datum.p=='f' && datum.star"}],
      "mark": {"type": "text", "fontSize": 40, "fontWeight": "bold", "baseline": "alphabetic", "dy": 1, "color": "black"},
      "encoding": {"x": {"field": "cat", "type": "nominal"}, "y": {"field": "hi", "type": "quantitative"}, "text": {"field": "star"}}}
    ]},
   {"width": 196, "height": 21.5,
    "data": {"name": "bars"}, "transform": [{"filter": "datum.p=='f'"}],
    "mark": {"type": "bar", "color": "black"},
    "encoding": {"x": {"field": "grp", "type": "nominal", "scale": {"domain": ["Control","DBA"], "paddingInner": 0.3, "paddingOuter": 0.11},
                       "axis": {"title": null, "labelAngle": 0, "labelPadding": 2, "labelFontSize": 14}},
                 "y": {"datum": 0, "type": "quantitative", "scale": {"domain": [0, 21.5]}, "axis": null},
                 "y2": {"datum": 3}}}
  ]}
 ]}
]
}
